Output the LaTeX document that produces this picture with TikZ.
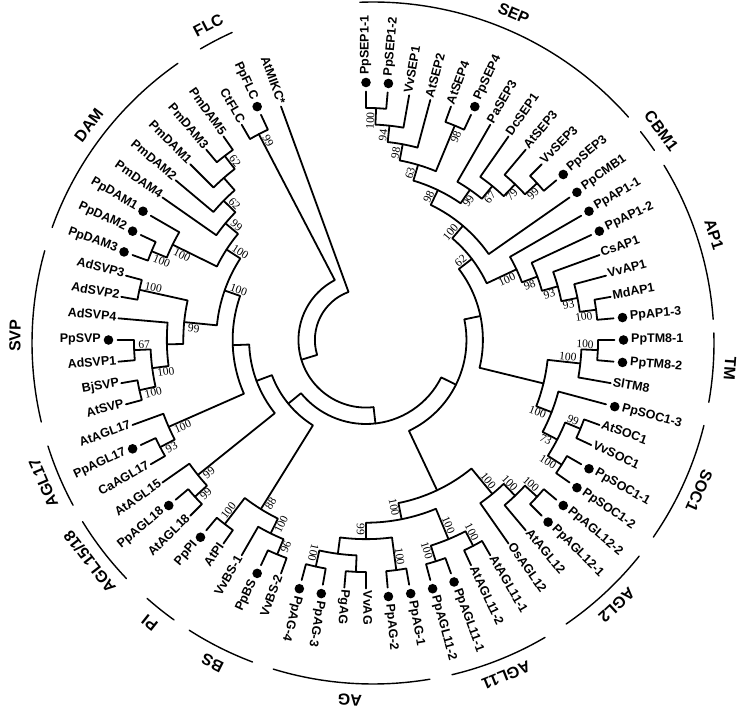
\documentclass[tikz,border=0pt]{standalone}
\usepackage{fontspec}
\setmainfont{Liberation Sans}
\newfontfamily\bsfont{Liberation Serif}
\newcommand\rr[1]{(248.5-16.45*(#1))}
\begin{document}
\begin{tikzpicture}[x=1pt, y=1pt, line join=round, line cap=round,
  branch/.style={line width=1.8pt},
  cladearc/.style={line width=1.4pt},
  taxon/.style={font=\fontsize{12.5}{13}\selectfont\bfseries, inner sep=0pt},
  bootval/.style={font=\bsfont\fontsize{11.5}{12}\selectfont, inner sep=1.2pt},
  cladename/.style={font=\fontsize{16}{18}\selectfont\bfseries, inner sep=0pt}]
\useasboundingbox (-366,-372) rectangle (378,340);
% branches: angle/height of first child, angle/height of second child, height of node
\foreach \ta/\ha/\tb/\hb/\h in {0/0/5/0/1, 2.5/1/10/0/2, 6.25/2/15/0/3, 20/0/25/0/1,
  10.625/3/22.5/1/4, 45/0/50/0/1, 40/0/47.5/1/2, 35/0/43.75/2/3, 30/0/39.375/3/4,
  16.5625/4/34.6875/4/5, 25.625/5/55/0/6, 80/0/85/0/1, 75/0/82.5/1/2, 70/0/78.75/2/3,
  65/0/74.375/3/4, 60/0/69.6875/4/5, 40.3125/6/64.84375/5/7, 90/0/95/0/1, 92.5/1/100/0/2,
  110/0/115/0/1, 120/0/125/0/1, 112.5/1/122.5/1/2, 105/0/117.5/2/3, 96.25/2/111.25/3/4,
  52.578/7/103.75/4/8, 130/0/135/0/1, 132.5/1/140/0/2, 136.25/2/145/0/3, 150/0/155/0/1,
  160/0/165/0/1, 152.5/1/162.5/1/2, 170/0/175/0/1, 180/0/185/0/1, 190/0/195/0/1,
  182.5/1/192.5/1/2, 172.5/1/187.5/2/3, 157.5/2/180/3/4, 140.625/3/168.75/4/5,
  78.164/8/154.6875/5/9, 200/0/205/0/1, 202.5/1/210/0/2, 215/0/220/0/1, 206.25/2/217.5/1/3,
  225/0/230/0/1, 227.5/1/235/0/2, 240/0/245/0/1, 242.5/1/250/0/2, 255/0/260/0/1,
  265/0/270/0/1, 257.5/1/267.5/1/2, 262.5/2/275/0/3, 280/0/285/0/1, 268.75/3/282.5/1/4,
  290/0/295/0/1, 292.5/1/300/0/2, 320/0/325/0/1, 315/0/322.5/1/2, 310/0/318.75/2/3,
  305/0/314.375/3/4, 296.25/2/309.6875/4/5, 275.625/4/302.97/5/6, 246.25/2/289.3/6/7,
  231.25/2/267.77/7/8, 211.875/3/249.51/8/9, 116.42/9/230.69/9/10, 330/0/335/0/1,
  173.55/10/332.5/1/11, 253.03/11/340/0/12}
  \draw[branch] ({90-\ta}:{\rr{\ha}}) -- ({90-\ta}:{\rr{\h}})
    arc[start angle={90-\ta}, end angle={90-\tb}, radius={\rr{\h}*1pt}] -- ({90-\tb}:{\rr{\hb}});
% taxa, clockwise from the top
\foreach \i/\lab/\pp in {0/PpSEP1-1/1, 1/PpSEP1-2/1, 2/VvSEP1/0, 3/AtSEP2/0, 4/AtSEP4/0,
  5/PpSEP4/1, 6/PaSEP3/0, 7/DcSEP1/0, 8/AtSEP3/0, 9/VvSEP3/0, 10/PpSEP3/1, 11/PpCMB1/1,
  12/PpAP1-1/1, 13/PpAP1-2/1, 14/CsAP1/0, 15/VvAP1/0, 16/MdAP1/0, 17/PpAP1-3/1,
  18/PpTM8-1/1, 19/PpTM8-2/1, 20/SlTM8/0, 21/PpSOC1-3/1, 22/AtSOC1/0, 23/VvSOC1/0,
  24/PpSOC1-1/1, 25/PpSOC1-2/1, 26/PpAGL12-2/1, 27/PpAGL12-1/1, 28/AtAGL12/0,
  29/OsAGL12/0, 30/AtAGL11-1/0, 31/AtAGL11-2/0, 32/PpAGL11-1/1, 33/PpAGL11-2/1,
  34/PpAG-1/1, 35/PpAG-2/1, 36/VvAG/0, 37/PgAG/0, 38/PpAG-3/1, 39/PpAG-4/1,
  40/VvBS-2/0, 41/PpBS/1, 42/VvBS-1/0, 43/AtPI/0, 44/PpPI/1, 45/AtAGL18/0,
  46/PpAGL18/1, 47/AtAGL15/0, 48/CaAGL17/0, 49/PpAGL17/1, 50/AtAGL17/0, 51/AtSVP/0,
  52/BjSVP/0, 53/AdSVP1/0, 54/PpSVP/1, 55/AdSVP4/0, 56/AdSVP2/0, 57/AdSVP3/0,
  58/PpDAM3/1, 59/PpDAM2/1, 60/PpDAM1/1, 61/PmDAM4/0, 62/PmDAM2/0, 63/PmDAM1/0,
  64/PmDAM3/0, 65/PmDAM5/0, 66/CtFLC/0, 67/PpFLC/1, 68/AtMIKC*/0}{
  \pgfmathsetmacro\ang{90-5*\i}
  \ifnum\pp=1
    \fill ({\ang}:257.5) circle[radius=4.8pt];
    \def\rl{265}
  \else
    \def\rl{250.5}
  \fi
  \ifnum\i<40
    \node[taxon, rotate=\ang, anchor=mid west] (t\i) at ({\ang}:\rl) {\lab};
  \else
    \node[taxon, rotate=\ang+180, anchor=mid east] (t\i) at ({\ang}:\rl) {\lab};
  \fi
}
% bootstrap values: angle/height of node, side (1 ccw, 2 cw), value
\foreach \t/\h/\s/\v [count=\k] in {2.5/1/1/100, 6.25/2/1/94, 10.625/3/1/98, 22.5/1/2/98,
  16.5625/4/1/63, 47.5/1/2/99, 43.75/2/2/79, 39.375/3/2/67, 34.6875/4/2/99, 25.625/5/1/98,
  40.3125/6/1/100, 52.578/7/1/62, 82.5/1/2/100, 78.75/2/2/93, 74.375/3/2/93,
  69.6875/4/2/98, 64.84/5/2/100, 92.5/1/1/100, 96.25/2/1/100, 112.5/1/1/99,
  122.5/1/2/100, 117.5/2/2/73, 111.25/3/2/100, 132.5/1/1/100, 136.25/2/1/100,
  140.625/3/1/100, 152.5/1/1/100, 162.5/1/2/100, 157.5/2/1/100, 172.5/1/1/100,
  192.5/1/2/100, 180/3/2/99, 168.75/4/2/100, 202.5/1/1/96, 206.25/2/1/100,
  217.5/1/2/100, 211.875/3/1/88, 227.5/1/1/99, 231.25/2/1/99, 242.5/1/1/93,
  246.25/2/1/100, 257.5/1/1/100, 267.5/1/2/67, 262.5/2/1/100, 282.5/1/2/100,
  275.625/4/1/99, 292.5/1/1/100, 296.25/2/1/100, 322.5/1/2/62, 314.375/3/2/62,
  309.6875/4/2/99, 302.97/5/2/100, 289.3/6/2/100, 332.5/1/2/99}{
  \pgfmathsetmacro\ang{90-\t}
  \pgfmathsetmacro\rb{248.5-16.45*\h-3}
  \ifdim\t pt<197.5pt
    \ifnum\s=1 \def\anc{south east}\else\def\anc{north east}\fi
    \node[bootval, rotate=\ang, anchor=\anc] (bs\k) at ({\ang}:\rb) {\v};
  \else
    \ifnum\s=2 \def\anc{south west}\else\def\anc{north west}\fi
    \node[bootval, rotate=\ang+180, anchor=\anc] (bs\k) at ({\ang}:\rb) {\v};
  \fi
}
% clade brackets
\begin{scope}[shift={(7,-3)}]
\foreach \a/\b/\nm [count=\k] in {-2.2/48.5/SEP, 51.7/55.6/CBM1, 58.6/86/AP1, 88.3/100/TM,
  104/124.7/SOC1, 128.7/145.5/AGL2, 149.7/166.6/AGL11, 170.4/197/AG, 200.7/212.6/BS,
  215.7/221.5/PI, 226.3/238.4/{AGL15/18}, 241.6/252.4/AGL17, 256.6/285.7/SVP,
  289.8/325.1/DAM, 329.6/335.6/FLC}{
  \draw[cladearc] ({90-(\a)}:341) arc[start angle={90-(\a)}, end angle={90-(\b)}, radius=341pt];
  \node[cladename, rotate={-(\a+\b)/2}] (cl\k) at ({90-(\a+\b)/2}:358) {\nm};
}
\end{scope}
\end{tikzpicture}
\end{document}
